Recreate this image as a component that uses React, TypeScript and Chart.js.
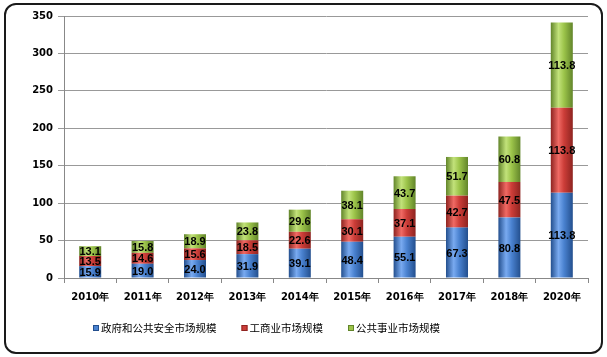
import React, { useEffect, useRef } from "react";
import { Chart, registerables } from "chart.js";
Chart.register(...registerables);

const categories = ["2010年", "2011年", "2012年", "2013年", "2014年", "2015年", "2016年", "2017年", "2018年", "2020年"];
const seriesNames = ["政府和公共安全市场规模", "工商业市场规模", "公共事业市场规模"];
const govValues = [15.9, 19.0, 24.0, 31.9, 39.1, 48.4, 55.1, 67.3, 80.8, 113.8];
const commValues = [13.5, 14.6, 15.6, 18.5, 22.6, 30.1, 37.1, 42.7, 47.5, 113.8];
const utilValues = [13.1, 15.8, 18.9, 23.8, 29.6, 38.1, 43.7, 51.7, 60.8, 113.8];
const yMin = 0;
const yMax = 350;
const yStep = 50;

const BAR_PCT = 0.42;
const palettes = [
  { dark: "#234f8e", light: "#79aaf0", mid: "#4a82d0" },
  { dark: "#8e2420", light: "#f06a64", mid: "#cc3d38" },
  { dark: "#62852a", light: "#c2e27a", mid: "#9cc44a" },
];

function gradientFor(i: number) {
  return (ctx: any) => {
    const chart = ctx.chart;
    const area = chart.chartArea;
    const p = palettes[i];
    if (!area || ctx.type !== "data") return p.mid;
    const x = chart.scales.x.getPixelForValue(ctx.dataIndex);
    const w = ((area.right - area.left) / categories.length) * BAR_PCT;
    const g = chart.ctx.createLinearGradient(x - w / 2, 0, x + w / 2, 0);
    g.addColorStop(0, p.dark);
    g.addColorStop(0.35, p.light);
    g.addColorStop(0.6, p.mid);
    g.addColorStop(1, p.dark);
    return g;
  };
}

const labelPlugin = {
  id: "segLabels",
  afterDatasetsDraw(chart: any) {
    const ctx = chart.ctx;
    ctx.save();
    ctx.font = "bold 11px 'Liberation Sans'";
    ctx.fillStyle = "#000";
    ctx.textAlign = "center";
    ctx.textBaseline = "middle";
    chart.data.datasets.forEach((ds: any, di: number) => {
      const meta = chart.getDatasetMeta(di);
      meta.data.forEach((el: any, i: number) => {
        const v = ds.data[i];
        const y = (el.y + el.base) / 2;
        ctx.fillText(v.toFixed(1), el.x, y + 1);
      });
    });
    ctx.restore();
  },
};

const legendPlugin = {
  id: "customLegend",
  afterDraw(chart: any) {
    const ctx = chart.ctx;
    ctx.save();
    ctx.font = "10.5px 'Noto Sans CJK SC'";
    ctx.textBaseline = "middle";
    ctx.textAlign = "left";
    let x = 93;
    const y = 328;
    chart.data.datasets.forEach((ds: any, di: number) => {
      const p = palettes[di];
      ctx.fillStyle = p.mid;
      ctx.fillRect(x, y - 3, 6, 6);
      ctx.strokeStyle = p.dark;
      ctx.lineWidth = 1;
      ctx.strokeRect(x + 0.5, y - 2.5, 5, 5);
      ctx.fillStyle = "#000";
      ctx.fillText(ds.label, x + 8, y);
      x += 8 + ctx.measureText(ds.label).width + 25;
    });
    ctx.restore();
  },
};

export default function App() {
  const ref = useRef<HTMLCanvasElement>(null);
  useEffect(() => {
    if (!ref.current) return;
    const chart = new Chart(ref.current, {
      type: "bar",
      data: {
        labels: categories,
        datasets: [govValues, commValues, utilValues].map((d, i) => ({
          label: seriesNames[i],
          data: d,
          backgroundColor: gradientFor(i),
          borderWidth: 0,
          barPercentage: BAR_PCT,
          categoryPercentage: 1,
        })),
      },
      options: {
        responsive: false,
        animation: false,
        layout: { padding: { left: 0, top: 16, right: 19, bottom: 0 } },
        plugins: { legend: { display: false }, tooltip: { enabled: false } },
        scales: {
          x: {
            stacked: true,
            grid: { offset: true, drawOnChartArea: false, tickLength: 5, color: "#888" },
            border: { color: "#888" },
            ticks: { color: "#000", font: { family: "'DejaVu Sans'", size: 10, weight: "bold" }, padding: 8, maxRotation: 0 },
            afterFit: (s: any) => { s.height = 79; },
          },
          y: {
            stacked: true,
            min: yMin,
            max: yMax,
            ticks: { stepSize: yStep, color: "#000", font: { family: "'DejaVu Sans'", size: 10, weight: "bold" }, padding: 5 },
            grid: { color: "#999", tickLength: 6 },
            border: { color: "#888" },
            afterFit: (s: any) => { s.width = 64; },
          },
        },
      },
      plugins: [labelPlugin, legendPlugin],
    });
    return () => chart.destroy();
  }, []);
  return (
    <div style={{ position: "fixed", left: 0, top: 0, width: 607, height: 357, background: "#fff" }}>
      <div style={{ position: "absolute", left: 4, top: 3, width: 599, height: 351, boxSizing: "border-box", border: "2px solid #1a1a1a", borderRadius: 12 }} />
      <canvas ref={ref} width={607} height={357} style={{ position: "absolute", left: 0, top: 0 }} />
    </div>
  );
}
